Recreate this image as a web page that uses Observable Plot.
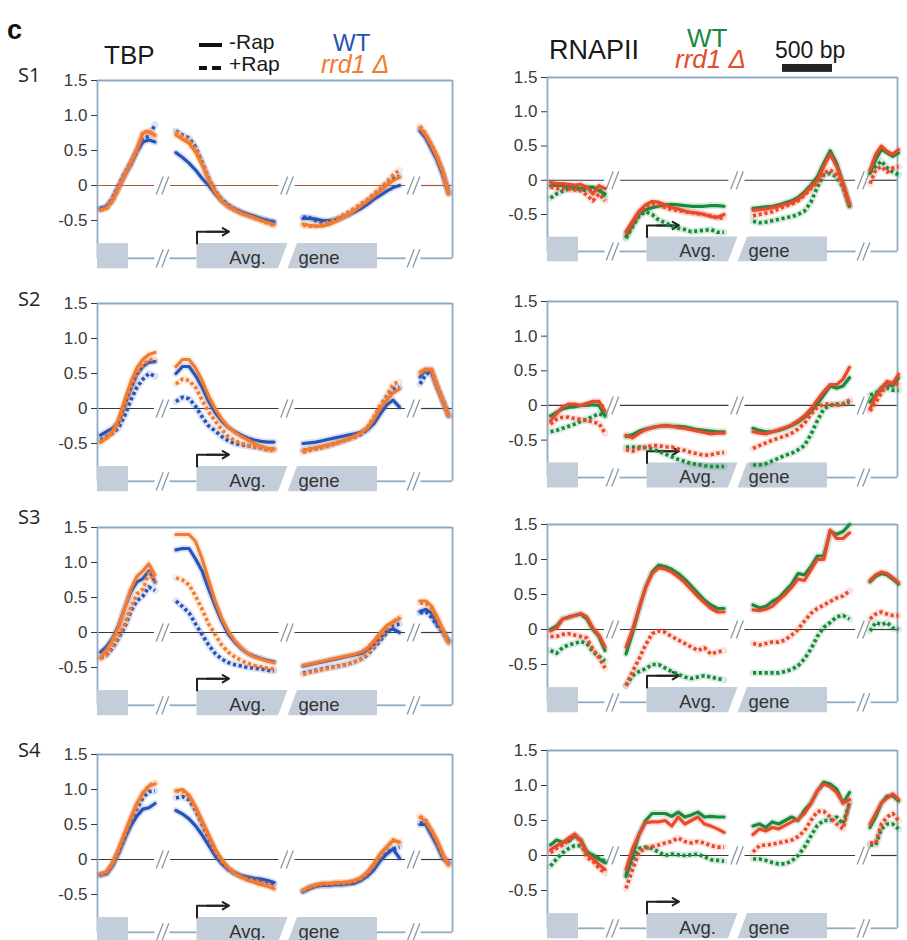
<!DOCTYPE html>
<html><head><meta charset="utf-8">
<script src="https://cdn.jsdelivr.net/npm/d3@7"></script>
<script src="https://cdn.jsdelivr.net/npm/@observablehq/plot@0.6"></script>
<style>
html,body{margin:0;padding:0;background:#fff;}
body{width:907px;height:940px;overflow:hidden;position:relative;font-family:"Liberation Sans",Arial,sans-serif;color:#222;}
.abs{position:absolute;white-space:nowrap;line-height:0.8;}
.abs svg{max-width:none;}
</style></head><body>
<script>
// ---------- categories / labels ----------
const rowLabels = ["S1","S2","S3","S4"];
const assays = ["TBP","RNAPII"];
const strains = ["WT","rrd1 Δ"];
const treatments = ["-Rap","+Rap"];
const yTicks = [1.5, 1.0, 0.5, 0, -0.5];
// points per region: upstream, promoter/5', 3' end, downstream
const segCounts = [10, 16, 16, 6];

// ---------- series values (A 10 | B 16 | C 16 | D 6) ----------
// TBP S1
const tbpS1_wtM = [-0.33,-0.3,-0.2,-0.02,0.15,0.3,0.48,0.62,0.65,0.62, 0.47,0.4,0.32,0.22,0.1,0.0,-0.12,-0.22,-0.29,-0.34,-0.38,-0.41,-0.44,-0.47,-0.5,-0.52, -0.47,-0.47,-0.48,-0.5,-0.5,-0.49,-0.46,-0.42,-0.38,-0.33,-0.27,-0.2,-0.14,-0.08,-0.03,0.0, 0.78,0.68,0.52,0.36,0.15,-0.1];
const tbpS1_wtP = [-0.33,-0.3,-0.18,0.0,0.17,0.33,0.5,0.68,0.7,0.87, 0.78,0.72,0.68,0.55,0.33,0.1,-0.08,-0.2,-0.28,-0.34,-0.38,-0.42,-0.45,-0.48,-0.5,-0.52, -0.45,-0.46,-0.5,-0.53,-0.52,-0.5,-0.46,-0.42,-0.36,-0.3,-0.23,-0.15,-0.07,0.02,0.1,0.13, 0.8,0.7,0.55,0.4,0.18,-0.1];
const tbpS1_rrM = [-0.35,-0.32,-0.2,-0.03,0.16,0.32,0.52,0.75,0.77,0.72, 0.72,0.66,0.6,0.48,0.3,0.08,-0.1,-0.22,-0.3,-0.35,-0.4,-0.43,-0.46,-0.5,-0.53,-0.56, -0.55,-0.57,-0.58,-0.58,-0.56,-0.52,-0.47,-0.42,-0.36,-0.29,-0.22,-0.15,-0.08,0.0,0.07,0.12, 0.82,0.72,0.58,0.4,0.2,-0.12];
const tbpS1_rrP = [-0.35,-0.33,-0.22,-0.04,0.15,0.32,0.5,0.76,0.78,0.7, 0.77,0.7,0.65,0.52,0.32,0.1,-0.08,-0.22,-0.3,-0.35,-0.4,-0.43,-0.47,-0.5,-0.54,-0.57, -0.57,-0.58,-0.58,-0.56,-0.52,-0.48,-0.43,-0.38,-0.32,-0.26,-0.2,-0.12,-0.04,0.05,0.15,0.22, 0.85,0.74,0.58,0.42,0.2,-0.12];
// RNAPII S1
const rnaS1_wtM = [-0.08,-0.07,-0.08,-0.1,-0.1,-0.12,-0.1,-0.1,-0.15,-0.2, -0.82,-0.65,-0.5,-0.43,-0.4,-0.38,-0.36,-0.35,-0.36,-0.37,-0.38,-0.38,-0.38,-0.37,-0.37,-0.38, -0.41,-0.4,-0.39,-0.38,-0.36,-0.33,-0.3,-0.25,-0.17,-0.07,0.05,0.25,0.43,0.25,-0.05,-0.38, 0.1,0.3,0.45,0.4,0.35,0.4];
const rnaS1_wtP = [-0.26,-0.2,-0.16,-0.13,-0.12,-0.14,-0.15,-0.12,-0.12,-0.26, -0.85,-0.68,-0.52,-0.46,-0.5,-0.58,-0.62,-0.67,-0.7,-0.72,-0.75,-0.74,-0.73,-0.72,-0.76,-0.76, -0.6,-0.62,-0.61,-0.59,-0.57,-0.55,-0.53,-0.5,-0.45,-0.32,-0.1,0.08,0.1,0.05,-0.1,-0.38, 0.12,0.2,0.28,0.18,0.12,0.08];
const rnaS1_rrM = [-0.03,-0.05,-0.05,-0.06,-0.07,-0.06,-0.1,-0.2,-0.08,-0.12, -0.75,-0.6,-0.45,-0.36,-0.31,-0.32,-0.36,-0.4,-0.42,-0.45,-0.47,-0.48,-0.5,-0.53,-0.54,-0.5, -0.44,-0.43,-0.42,-0.4,-0.38,-0.35,-0.33,-0.28,-0.2,-0.1,0.0,0.2,0.38,0.2,-0.05,-0.35, 0.15,0.38,0.5,0.42,0.38,0.45];
const rnaS1_rrP = [-0.1,-0.12,-0.12,-0.13,-0.14,-0.15,-0.22,-0.3,-0.2,-0.3, -0.78,-0.62,-0.47,-0.38,-0.34,-0.36,-0.4,-0.43,-0.44,-0.46,-0.47,-0.49,-0.5,-0.52,-0.55,-0.55, -0.52,-0.5,-0.48,-0.46,-0.42,-0.38,-0.35,-0.3,-0.22,-0.12,-0.03,0.1,0.15,0.08,-0.08,-0.36, -0.05,0.15,0.2,0.12,0.18,0.2];
// TBP S2
const tbpS2_wtM = [-0.38,-0.33,-0.28,-0.2,0.05,0.28,0.48,0.6,0.66,0.67, 0.5,0.6,0.6,0.47,0.3,0.1,-0.06,-0.18,-0.27,-0.33,-0.38,-0.42,-0.45,-0.47,-0.48,-0.48, -0.5,-0.49,-0.48,-0.46,-0.44,-0.42,-0.4,-0.38,-0.36,-0.34,-0.3,-0.22,-0.08,0.05,0.12,0.02, 0.45,0.55,0.52,0.3,0.1,-0.1];
const tbpS2_wtP = [-0.45,-0.4,-0.35,-0.28,-0.1,0.12,0.3,0.42,0.5,0.46, 0.1,0.16,0.14,0.03,-0.12,-0.25,-0.32,-0.4,-0.46,-0.5,-0.52,-0.53,-0.55,-0.56,-0.58,-0.58, -0.6,-0.58,-0.57,-0.55,-0.53,-0.5,-0.47,-0.44,-0.41,-0.37,-0.3,-0.18,-0.02,0.15,0.28,0.3, 0.35,0.48,0.55,0.32,0.12,-0.1];
const tbpS2_rrM = [-0.48,-0.42,-0.33,-0.15,0.12,0.38,0.58,0.7,0.77,0.8, 0.6,0.7,0.7,0.58,0.4,0.18,0.0,-0.15,-0.26,-0.34,-0.4,-0.45,-0.5,-0.54,-0.57,-0.58, -0.6,-0.58,-0.56,-0.54,-0.52,-0.5,-0.47,-0.44,-0.4,-0.35,-0.28,-0.15,0.0,0.12,0.22,0.28, 0.52,0.56,0.56,0.33,0.12,-0.1];
const tbpS2_rrP = [-0.48,-0.42,-0.35,-0.2,0.05,0.3,0.5,0.62,0.7,0.7, 0.35,0.42,0.4,0.3,0.12,-0.05,-0.18,-0.3,-0.4,-0.46,-0.5,-0.53,-0.55,-0.57,-0.6,-0.6, -0.63,-0.6,-0.58,-0.56,-0.53,-0.5,-0.47,-0.44,-0.4,-0.35,-0.27,-0.12,0.05,0.18,0.35,0.38, 0.5,0.55,0.55,0.3,0.1,-0.1];
// RNAPII S2
const rnaS2_wtM = [-0.15,-0.1,-0.05,-0.03,-0.02,0.0,0.0,0.01,0.0,-0.15, -0.45,-0.42,-0.37,-0.34,-0.32,-0.3,-0.29,-0.3,-0.3,-0.31,-0.33,-0.35,-0.36,-0.37,-0.38,-0.38, -0.33,-0.36,-0.38,-0.38,-0.36,-0.33,-0.29,-0.24,-0.17,-0.09,0.02,0.15,0.28,0.25,0.28,0.4, 0.05,0.15,0.26,0.3,0.28,0.4];
const rnaS2_wtP = [-0.38,-0.36,-0.33,-0.3,-0.27,-0.23,-0.2,-0.16,-0.12,-0.15, -0.6,-0.6,-0.6,-0.61,-0.63,-0.66,-0.7,-0.74,-0.78,-0.81,-0.84,-0.85,-0.87,-0.88,-0.88,-0.88, -0.86,-0.86,-0.84,-0.8,-0.76,-0.72,-0.69,-0.64,-0.58,-0.42,-0.22,-0.05,0.0,0.02,0.02,0.05, 0.15,0.18,0.22,0.25,0.22,0.22];
const rnaS2_rrM = [-0.22,-0.12,-0.02,0.02,0.02,0.0,0.03,0.06,0.06,-0.08, -0.43,-0.47,-0.4,-0.35,-0.32,-0.3,-0.29,-0.3,-0.32,-0.33,-0.35,-0.37,-0.39,-0.41,-0.4,-0.4, -0.38,-0.4,-0.41,-0.38,-0.35,-0.32,-0.28,-0.22,-0.15,-0.05,0.08,0.2,0.3,0.3,0.38,0.55, -0.05,0.12,0.25,0.35,0.32,0.45];
const rnaS2_rrP = [-0.27,-0.2,-0.17,-0.17,-0.19,-0.2,-0.22,-0.24,-0.26,-0.4, -0.64,-0.66,-0.62,-0.6,-0.58,-0.58,-0.6,-0.6,-0.63,-0.65,-0.68,-0.7,-0.72,-0.71,-0.69,-0.68, -0.62,-0.58,-0.54,-0.5,-0.47,-0.44,-0.4,-0.34,-0.26,-0.13,-0.03,0.02,0.02,0.0,0.02,0.08, -0.08,0.04,0.18,0.3,0.32,0.3];
// TBP S3
const tbpS3_wtM = [-0.28,-0.2,-0.08,0.1,0.35,0.58,0.72,0.77,0.88,0.72, 1.18,1.2,1.2,1.05,0.88,0.62,0.38,0.16,-0.02,-0.14,-0.23,-0.3,-0.34,-0.37,-0.4,-0.42, -0.48,-0.46,-0.44,-0.42,-0.4,-0.38,-0.36,-0.34,-0.32,-0.3,-0.25,-0.18,-0.08,0.02,0.05,0.0, 0.3,0.33,0.28,0.12,0.02,-0.12];
const tbpS3_wtP = [-0.35,-0.32,-0.22,-0.08,0.08,0.3,0.45,0.52,0.65,0.6, 0.45,0.37,0.28,0.12,-0.03,-0.18,-0.3,-0.38,-0.43,-0.46,-0.48,-0.5,-0.51,-0.52,-0.54,-0.55, -0.58,-0.56,-0.54,-0.52,-0.5,-0.49,-0.47,-0.45,-0.42,-0.38,-0.32,-0.22,-0.12,0.0,0.1,0.12, 0.28,0.3,0.22,0.1,0.0,-0.12];
const tbpS3_rrM = [-0.36,-0.25,-0.1,0.08,0.35,0.62,0.8,0.88,0.98,0.82, 1.4,1.4,1.4,1.3,1.05,0.75,0.45,0.2,0.02,-0.12,-0.22,-0.3,-0.35,-0.38,-0.41,-0.43, -0.47,-0.45,-0.43,-0.41,-0.39,-0.37,-0.35,-0.33,-0.31,-0.28,-0.22,-0.12,0.0,0.1,0.15,0.2, 0.45,0.45,0.38,0.22,0.05,-0.15];
const tbpS3_rrP = [-0.38,-0.32,-0.2,-0.05,0.12,0.35,0.55,0.62,0.85,0.72, 0.78,0.75,0.68,0.52,0.33,0.12,-0.03,-0.18,-0.28,-0.35,-0.4,-0.44,-0.47,-0.49,-0.51,-0.52, -0.6,-0.57,-0.55,-0.53,-0.51,-0.49,-0.47,-0.45,-0.42,-0.38,-0.3,-0.2,-0.08,0.05,0.15,0.22, 0.42,0.42,0.35,0.2,0.02,-0.15];
// RNAPII S3
const rnaS3_wtM = [0.0,0.05,0.15,0.18,0.2,0.22,0.15,0.0,-0.1,-0.3, -0.35,-0.05,0.3,0.6,0.82,0.92,0.9,0.86,0.8,0.72,0.62,0.52,0.42,0.35,0.3,0.3, 0.35,0.31,0.33,0.4,0.45,0.55,0.65,0.8,0.78,0.9,1.05,1.05,1.4,1.36,1.4,1.5, 0.68,0.76,0.8,0.78,0.72,0.65];
const rnaS3_wtP = [-0.3,-0.34,-0.26,-0.22,-0.2,-0.17,-0.2,-0.32,-0.38,-0.45, -0.8,-0.66,-0.6,-0.56,-0.5,-0.5,-0.55,-0.6,-0.64,-0.68,-0.7,-0.68,-0.66,-0.68,-0.7,-0.72, -0.62,-0.62,-0.62,-0.62,-0.62,-0.6,-0.57,-0.52,-0.42,-0.28,-0.1,0.03,0.1,0.18,0.2,0.15, -0.02,0.1,0.07,0.1,0.02,0.0];
const rnaS3_rrM = [-0.02,0.02,0.15,0.17,0.2,0.23,0.18,0.02,-0.08,-0.25, -0.25,0.0,0.3,0.6,0.8,0.88,0.86,0.82,0.75,0.67,0.57,0.47,0.38,0.3,0.25,0.25, 0.28,0.27,0.29,0.33,0.42,0.5,0.6,0.72,0.7,0.85,1.0,1.0,1.42,1.3,1.3,1.38, 0.7,0.78,0.82,0.8,0.74,0.67];
const rnaS3_rrP = [-0.1,-0.1,-0.07,-0.06,-0.08,-0.1,-0.12,-0.28,-0.4,-0.55, -0.8,-0.6,-0.42,-0.22,-0.06,-0.02,-0.04,-0.1,-0.15,-0.2,-0.25,-0.3,-0.26,-0.35,-0.32,-0.3, -0.2,-0.22,-0.2,-0.18,-0.18,-0.15,-0.08,0.0,0.12,0.23,0.3,0.35,0.4,0.45,0.48,0.55, 0.15,0.22,0.25,0.22,0.2,0.2];
// TBP S4
const tbpS4_wtM = [-0.22,-0.2,-0.08,0.1,0.3,0.48,0.62,0.72,0.74,0.8, 0.7,0.65,0.58,0.48,0.35,0.2,0.05,-0.06,-0.14,-0.19,-0.23,-0.25,-0.27,-0.28,-0.3,-0.33, -0.46,-0.42,-0.38,-0.37,-0.37,-0.36,-0.36,-0.35,-0.34,-0.3,-0.24,-0.15,-0.02,0.08,0.15,0.02, 0.5,0.5,0.35,0.2,0.02,-0.05];
const tbpS4_wtP = [-0.22,-0.2,-0.08,0.1,0.32,0.52,0.72,0.88,0.97,0.98, 0.88,0.9,0.85,0.7,0.5,0.3,0.1,-0.04,-0.14,-0.2,-0.24,-0.26,-0.28,-0.3,-0.32,-0.35, -0.45,-0.4,-0.38,-0.36,-0.36,-0.35,-0.35,-0.34,-0.32,-0.28,-0.2,-0.1,0.02,0.1,0.15,0.18, 0.52,0.52,0.38,0.22,0.04,-0.05];
const tbpS4_rrM = [-0.2,-0.18,-0.05,0.15,0.38,0.6,0.8,0.95,1.05,1.08, 0.98,1.0,0.92,0.75,0.55,0.35,0.15,0.0,-0.12,-0.2,-0.25,-0.3,-0.33,-0.36,-0.38,-0.42, -0.44,-0.39,-0.36,-0.34,-0.34,-0.33,-0.33,-0.32,-0.3,-0.26,-0.18,-0.06,0.08,0.18,0.27,0.25, 0.6,0.55,0.42,0.27,0.08,-0.08];
const tbpS4_rrP = [-0.22,-0.18,-0.06,0.13,0.35,0.58,0.78,0.95,1.05,1.1, 0.98,0.98,0.9,0.73,0.52,0.32,0.12,-0.02,-0.12,-0.2,-0.25,-0.28,-0.3,-0.33,-0.36,-0.4, -0.45,-0.4,-0.37,-0.35,-0.35,-0.34,-0.34,-0.33,-0.31,-0.27,-0.2,-0.08,0.06,0.17,0.28,0.24, 0.62,0.56,0.42,0.26,0.06,-0.08];
// RNAPII S4
const rnaS4_wtM = [0.15,0.22,0.19,0.2,0.28,0.22,0.05,0.0,-0.05,-0.1, -0.3,0.0,0.3,0.5,0.6,0.6,0.6,0.56,0.62,0.55,0.58,0.62,0.55,0.56,0.55,0.55, 0.42,0.45,0.4,0.48,0.45,0.5,0.55,0.5,0.65,0.75,0.92,1.05,1.02,0.95,0.75,0.9, 0.4,0.55,0.75,0.85,0.85,0.78];
const rnaS4_wtP = [-0.15,-0.05,0.04,0.1,0.14,0.14,0.05,0.0,-0.04,-0.08, -0.28,-0.05,0.1,0.12,0.1,0.05,0.0,0.02,0.01,0.0,0.01,0.02,-0.02,-0.06,-0.07,-0.08, -0.05,-0.05,-0.07,-0.1,-0.12,-0.12,-0.08,0.0,0.12,0.28,0.43,0.5,0.5,0.55,0.45,0.75, 0.15,0.15,0.38,0.45,0.45,0.38];
const rnaS4_rrM = [0.08,0.14,0.18,0.25,0.3,0.22,0.02,-0.05,-0.13,-0.2, -0.2,0.1,0.3,0.47,0.48,0.48,0.5,0.42,0.55,0.45,0.5,0.55,0.45,0.42,0.38,0.33, 0.3,0.38,0.35,0.4,0.38,0.43,0.48,0.52,0.6,0.74,0.92,1.02,0.98,0.9,0.75,0.8, 0.45,0.6,0.75,0.82,0.88,0.8];
const rnaS4_rrP = [0.04,0.1,0.15,0.22,0.3,0.2,-0.03,-0.08,-0.18,-0.25, -0.47,-0.2,0.05,0.1,0.13,0.15,0.18,0.2,0.25,0.2,0.18,0.2,0.18,0.14,0.12,0.12, 0.05,0.14,0.15,0.16,0.18,0.2,0.22,0.27,0.35,0.5,0.63,0.63,0.55,0.45,0.38,0.75, 0.18,0.18,0.45,0.55,0.6,0.5];

// ---------- layout (bp along the averaged gene) ----------
const segRanges = [[30,575],[785,1765],[2055,3020],[3225,3510]];
const breaks = [650,1895,3160];
const xMaxByCol = [3550,3500];
const topByCol = [[80,303,527,754],[77,301,524,750]];   // page y of the 1.5 gridline
const kByCol = [[70,70,70,70],[68.5,69.3,70,70]];        // px per unit
const colLeft = [0,460], colWidth = [460,447], colMarginL = [97,87], colMarginR = [8,10];
const geneLineY = -1.04, boxTop = -0.83, boxBot = -1.19, arrowY = -0.66;
const smallBox = [0,310], box1 = {left:995, topRight:1905, botRight:1810}, box2 = {topLeft:2000, botLeft:1905, right:2800};
const arrowEnd = 1315, avgX = 1500, geneX = 2215;
const scaleBar = {start:2350, length:500, y1:1.575, y2:1.69};

const palette = {TBP:["#2553b8","#f27b2f"], RNAPII:["#178a3d","#e84a2c"]};
const frameColor = "#8eabc3", slashColor = "#8b99a6", boxColor = "#c3ceda";
const zeroColor = (col,row) => (col===0 && row===0) ? "#b0553c" : "#3a3a3a";

const panelSeries = [
  [[tbpS1_wtM,tbpS1_wtP,tbpS1_rrM,tbpS1_rrP],[tbpS2_wtM,tbpS2_wtP,tbpS2_rrM,tbpS2_rrP],[tbpS3_wtM,tbpS3_wtP,tbpS3_rrM,tbpS3_rrP],[tbpS4_wtM,tbpS4_wtP,tbpS4_rrM,tbpS4_rrP]],
  [[rnaS1_wtM,rnaS1_wtP,rnaS1_rrM,rnaS1_rrP],[rnaS2_wtM,rnaS2_wtP,rnaS2_rrM,rnaS2_rrP],[rnaS3_wtM,rnaS3_wtP,rnaS3_rrM,rnaS3_rrP],[rnaS4_wtM,rnaS4_wtP,rnaS4_rrM,rnaS4_rrP]]
];

function expand(vals){
  const out=[]; let idx=0;
  segCounts.forEach((n,s)=>{
    const [a,b]=segRanges[s];
    for(let i=0;i<n;i++) out.push({x:a+(b-a)*i/(n-1), y:vals[idx++], seg:s});
  });
  return out;
}

function drawPanel(col,row){
  const xmax = xMaxByCol[col], k = kByCol[col][row], top = topByCol[col][row];
  const mT = 30, plotH = 2.7*k, H = Math.round(mT+plotH+6);
  const colors = palette[assays[col]];
  const b = breaks;
  const zeroSegs = [[0,b[0]-80],[b[0]+80,b[1]-80],[b[1]+80,b[2]-80],[b[2]+80,xmax]];
  const baseSegs = [[smallBox[1],b[0]-75],[b[0]+75,box1.left],[box2.right,b[2]-75],[b[2]+75,xmax]];
  const slashes = [];
  b.forEach(bx=>{
    [0,geneLineY].forEach(yy=>{
      if (yy===geneLineY && bx===b[1]) return;
      [-28,28].forEach(off=>slashes.push({x1:bx+off-35,y1:yy-0.13,x2:bx+off+35,y2:yy+0.13}));
    });
  });
  const marks = [
    Plot.ruleY(zeroSegs,{y:()=>0,x1:d=>d[0],x2:d=>d[1],stroke:zeroColor(col,row),strokeWidth:1.2}),
    Plot.ruleY(baseSegs,{y:()=>geneLineY,x1:d=>d[0],x2:d=>d[1],stroke:frameColor,strokeWidth:1.8}),
    Plot.ruleY([1.5],{x1:0,x2:xmax,stroke:frameColor,strokeWidth:1.8}),
    Plot.ruleX([0,xmax],{y1:geneLineY,y2:1.5,stroke:frameColor,strokeWidth:1.8}),
    Plot.link(slashes,{x1:"x1",y1:"y1",x2:"x2",y2:"y2",stroke:slashColor,strokeWidth:1.3}),
    Plot.rect([smallBox],{x1:d=>d[0],x2:d=>d[1],y1:()=>boxTop,y2:()=>boxBot,fill:boxColor}),
    Plot.areaX([{y:boxTop,x1:box1.left,x2:box1.topRight},{y:boxBot,x1:box1.left,x2:box1.botRight}],{y:"y",x1:"x1",x2:"x2",fill:boxColor}),
    Plot.areaX([{y:boxTop,x1:box2.topLeft,x2:box2.right},{y:boxBot,x1:box2.botLeft,x2:box2.right}],{y:"y",x1:"x1",x2:"x2",fill:boxColor}),
    Plot.text([{x:avgX,t:"Avg."},{x:geneX,t:"gene"}],{x:"x",y:()=>geneLineY,text:"t",fontSize:18.5,fill:"#333",dy:0,fontFamily:"Liberation Sans, Arial, sans-serif"}),
    Plot.line([{x:box1.left,y:boxTop},{x:box1.left,y:arrowY},{x:arrowEnd-60,y:arrowY}],{x:"x",y:"y",stroke:"#222",strokeWidth:2}),
    Plot.arrow([{}],{x1:()=>box1.left+100,y1:()=>arrowY,x2:()=>arrowEnd,y2:()=>arrowY,stroke:"#222",strokeWidth:2,headLength:9}),
    Plot.axisY({ticks:yTicks,tickFormat:d=>d===0?"0":d.toFixed(1),tickSize:6,tickPadding:4,fontSize:17,color:"#3a3a3a"})
  ];
  if (col===1 && row===0){
    marks.push(Plot.rect([scaleBar],{x1:d=>d.start,x2:d=>d.start+d.length,y1:"y1",y2:"y2",fill:"#222"}));
  }
  const series = panelSeries[col][row];
  series.forEach((vals,si)=>{
    const data = expand(vals);
    const c = colors[si<2?0:1];
    const dashed = si%2===1;
    marks.push(Plot.line(data,{x:"x",y:"y",z:"seg",stroke:c,strokeOpacity:0.16,strokeWidth:7,strokeLinejoin:"round",strokeLinecap:"round"}));
    marks.push(Plot.line(data,dashed
      ? {x:"x",y:"y",z:"seg",stroke:c,strokeWidth:3.6,strokeDasharray:"3.2,2.6",strokeLinecap:"butt"}
      : {x:"x",y:"y",z:"seg",stroke:c,strokeWidth:3.2,strokeLinejoin:"round"}));
  });
  const svg = Plot.plot({
    width: colWidth[col], height: H,
    marginLeft: colMarginL[col], marginRight: colMarginR[col], marginTop: mT, marginBottom: H-mT-plotH,
    x:{domain:[0,xmax],axis:null},
    y:{domain:[-1.2,1.5],axis:null},
    style:{background:"transparent",fontFamily:"Liberation Sans, Arial, sans-serif",fontSize:"17px",color:"#3a3a3a",overflow:"visible"},
    marks
  });
  const div = document.createElement("div");
  div.className = "abs";
  div.style.left = colLeft[col]+"px";
  div.style.top = (top-mT)+"px";
  div.style.lineHeight = "normal";
  div.appendChild(svg);
  document.body.appendChild(div);
}
for (let c=0;c<2;c++) for (let r=0;r<4;r++) drawPanel(c,r);

// ---------- headers / labels ----------
// line-height 0.8: baseline sits at top + asc*size
function label(txt,left,baseline,size,extra={},asc=0.7465){
  const d=document.createElement("div");
  d.className="abs"; d.textContent=txt;
  d.style.left=left+"px"; d.style.top=(baseline-asc*size)+"px"; d.style.fontSize=size+"px";
  Object.assign(d.style,extra); document.body.appendChild(d); return d;
}
function bar(left,top,w,h,color){
  const d=document.createElement("div"); d.className="abs";
  Object.assign(d.style,{left:left+"px",top:top+"px",width:w+"px",height:h+"px",background:color});
  document.body.appendChild(d);
}
label("c",7,40,27,{fontWeight:"bold",color:"#111"});
label(assays[0],104,64,26,{color:"#1a1a1a"});
label(assays[1],549,60,27,{color:"#1a1a1a"});
bar(199,43,23,4,"#111");
label(treatments[0],229,50,21,{color:"#1a1a1a"});
bar(199,66,8,4,"#111"); bar(212,66,9,4,"#111");
label(treatments[1],229,72,21,{color:"#1a1a1a"});
label(strains[0],333,51,24,{color:palette.TBP[0]});
label(strains[1],321,73,25,{color:palette.TBP[1],fontStyle:"italic"});
label(strains[0],687,47,26,{color:palette.RNAPII[0]});
label(strains[1],675,68,26,{color:palette.RNAPII[1],fontStyle:"italic"});
label("500 bp",775,58,23,{color:"#1a1a1a"});
const rowBaselines=[83,307,525,758];
rowLabels.forEach((s,i)=>label(s,18,rowBaselines[i],20,{fontFamily:"'Open Sans',sans-serif",color:"#222"},0.788));
</script>
</body></html>
